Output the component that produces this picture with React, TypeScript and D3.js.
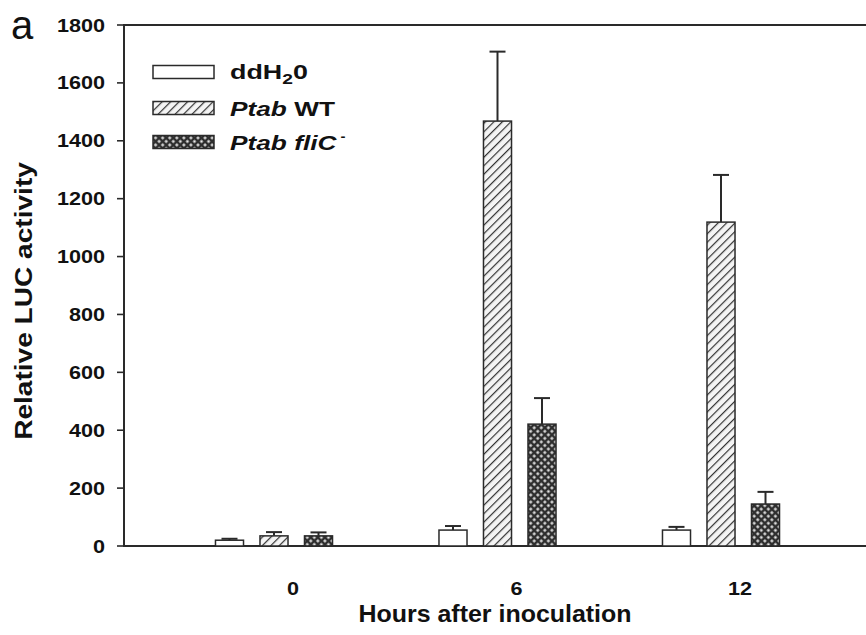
import React from "react";
import * as d3 from "d3";

const hours = ["0", "6", "12"];
const seriesNames = ["ddH2O", "PtabWT", "PtabFliC"];
const ddH2OMean = [20, 55, 55];
const ddH2OErr = [5, 14, 11];
const wtMean = [35, 1468, 1119];
const wtErr = [13, 240, 163];
const fliCMean = [35, 421, 145];
const fliCErr = [12, 90, 42];
const yTicks = [0, 200, 400, 600, 800, 1000, 1200, 1400, 1600, 1800];

const W = 866;
const H = 635;
const left = 124;
const top = 25;
const bottom = 546;
const frameRight = 872;
const FONT = "'Liberation Sans', Arial, Helvetica, sans-serif";
const INK = "#2a2a2a";

export default function App() {
  const y = d3.scaleLinear().domain([0, 1800]).range([bottom, top]);
  const x0 = d3.scaleBand<string>().domain(hours).range([162.25, 832.75]).padding(0);
  const x1 = d3
    .scaleBand<string>()
    .domain(seriesNames)
    .range([0, x0.bandwidth()])
    .paddingInner(0.37)
    .paddingOuter(1.196);
  const means = [ddH2OMean, wtMean, fliCMean];
  const errs = [ddH2OErr, wtErr, fliCErr];
  const fills = ["#ffffff", "url(#hatch)", "url(#cross)"];
  const bw = x1.bandwidth();
  const capW = 16;

  const legendRows = [72, 108, 142];

  return (
    <svg
      width={W}
      height={H}
      style={{ position: "absolute", left: 0, top: 0, background: "#fff" }}
      fontFamily={FONT}
    >
      <defs>
        <pattern id="hatch" patternUnits="userSpaceOnUse" width="6" height="6" patternTransform="rotate(45)">
          <rect width="6" height="6" fill="#f4f4f4" />
          <line x1="0" y1="0" x2="0" y2="6" stroke="#333" strokeWidth="2.4" />
        </pattern>
        <pattern id="cross" patternUnits="userSpaceOnUse" width="5" height="5" patternTransform="rotate(45)">
          <rect width="5" height="5" fill="#2e2e2e" />
          <rect x="1.3" y="1.3" width="2.4" height="2.4" fill="#f0f0f0" />
        </pattern>
      </defs>

      {/* panel letter */}
      <text x={11} y={39} fontSize={40} fill="#111">a</text>

      {/* frame */}
      <line x1={left} y1={top} x2={frameRight} y2={top} stroke={INK} strokeWidth={2} />
      <line x1={left} y1={top - 1} x2={left} y2={bottom + 1} stroke={INK} strokeWidth={2} />
      <line x1={left} y1={bottom} x2={frameRight} y2={bottom} stroke={INK} strokeWidth={2} />
      <line x1={frameRight - 2} y1={top} x2={frameRight - 2} y2={bottom} stroke={INK} strokeWidth={2} />

      {/* y ticks */}
      {yTicks.map((t) => (
        <g key={t}>
          <line x1={left - 7} x2={left} y1={y(t)} y2={y(t)} stroke={INK} strokeWidth={1.6} />
          <g transform={`translate(105,${y(t) + 6.5}) scale(1.2,1)`}>
            <text textAnchor="end" fontSize={18} fontWeight="bold" fill="#111">
              {t}
            </text>
          </g>
        </g>
      ))}

      {/* bars */}
      {hours.map((h, i) => (
        <g key={h} transform={`translate(${x0(h)},0)`}>
          {seriesNames.map((s, k) => {
            const bx = x1(s) as number;
            const m = means[k][i];
            const e = errs[k][i];
            const cx = bx + bw / 2;
            return (
              <g key={s}>
                <line x1={cx} x2={cx} y1={y(m)} y2={y(m + e)} stroke={INK} strokeWidth={2} />
                <line x1={cx - capW / 2} x2={cx + capW / 2} y1={y(m + e)} y2={y(m + e)} stroke={INK} strokeWidth={2} />
                <rect
                  x={bx}
                  y={y(m)}
                  width={bw}
                  height={bottom - y(m)}
                  fill={fills[k]}
                  stroke={INK}
                  strokeWidth={1.5}
                />
              </g>
            );
          })}
          <g transform={`translate(${x0.bandwidth() / 2 + 19},595) scale(1.2,1)`}>
            <text textAnchor="middle" fontSize={18} fontWeight="bold" fill="#111">
              {h}
            </text>
          </g>
        </g>
      ))}

      {/* x-axis title */}
      <g transform="translate(495,622) scale(1.04,1)">
        <text textAnchor="middle" fontSize={24} fontWeight="bold" fill="#111">
          Hours after inoculation
        </text>
      </g>

      {/* y-axis title */}
      <g transform="translate(32,301) rotate(-90) scale(1.17,1)">
        <text textAnchor="middle" fontSize={24} fontWeight="bold" fill="#111">
          Relative LUC activity
        </text>
      </g>

      {/* legend */}
      {legendRows.map((ly, k) => (
        <rect key={k} x={153} y={ly - 6.5} width={61} height={13} fill={fills[k]} stroke={INK} strokeWidth={1.5} />
      ))}
      <g transform={`translate(230,${legendRows[0] + 7}) scale(1.28,1)`}>
        <text fontSize={21} fontWeight="bold" fill="#111">
          ddH<tspan fontSize={15} dy={5}>2</tspan>
          <tspan dy={-5}>0</tspan>
        </text>
      </g>
      <g transform={`translate(230,${legendRows[1] + 8}) scale(1.25,1)`}>
        <text fontSize={21} fontWeight="bold" fill="#111">
          <tspan fontStyle="italic">Ptab</tspan> WT
        </text>
      </g>
      <g transform={`translate(230,${legendRows[2] + 8}) scale(1.25,1)`}>
        <text fontSize={21} fontWeight="bold" fill="#111">
          <tspan fontStyle="italic">Ptab fliC</tspan>
          <tspan fontSize={12} dy={-9}> -</tspan>
        </text>
      </g>
    </svg>
  );
}
